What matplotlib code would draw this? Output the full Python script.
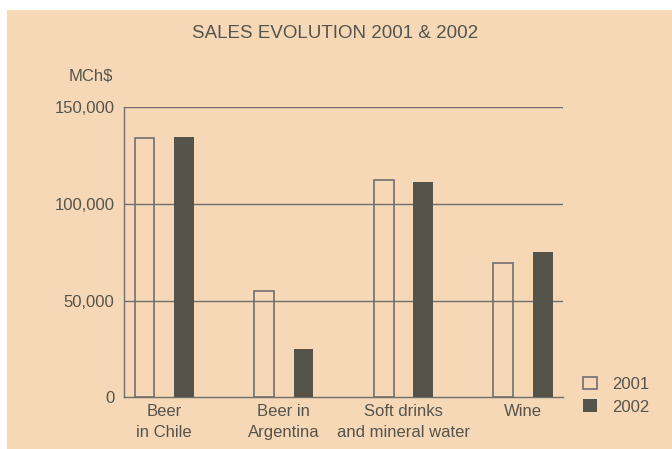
import numpy as np
import matplotlib.pyplot as plt
from matplotlib.patches import Rectangle

# sales, millions of Chilean pesos
categories = ["Beer\nin Chile", "Beer in\nArgentina", "Soft drinks\nand mineral water", "Wine"]
sales_2001 = [134000, 54700, 112200, 69500]
sales_2002 = [134400, 24800, 111100, 75000]
years = ["2001", "2002"]
yticks = [0, 50000, 100000, 150000]

bg = "#f6d8b7"
txt = "#55544c"
line = "#6f6f6f"
dark = "#55544b"

plt.rcParams["font.family"] = ["Liberation Sans", "DejaVu Sans"]

fig = plt.figure(figsize=(6.72, 4.49), dpi=100)
fig.patch.set_facecolor("white")
fig.patches.append(Rectangle((7 / 672, 0), 1, 1 - 10 / 449, transform=fig.transFigure,
                             facecolor=bg, edgecolor="none", zorder=-10))

ax = fig.add_axes([0.185, 0.1151, 0.6524, 0.6466])
ax.set_facecolor("none")

x = np.arange(len(categories))
w = 0.165
ax.bar(x - w, sales_2001, width=w, facecolor="none", edgecolor=line, linewidth=1.2,
       label=years[0], zorder=3)
ax.bar(x + w, sales_2002, width=w, color=dark, edgecolor="none", label=years[1], zorder=3)

ax.set_xlim(-0.334, 3.332)
ax.set_ylim(0, 150000)
ax.set_yticks(yticks)
ax.set_yticklabels([f"{v:,}" for v in yticks])
ax.set_xticks(x)
ax.set_xticklabels(categories, linespacing=1.45)
ax.tick_params(length=0, labelsize=12, colors=txt)
ax.tick_params(axis="y", pad=7)
ax.tick_params(axis="x", pad=5)

for v in yticks[1:]:
    ax.axhline(v, color=line, linewidth=1.0, zorder=1)
for s in ["top", "right"]:
    ax.spines[s].set_visible(False)
for s in ["left", "bottom"]:
    ax.spines[s].set_color(line)
    ax.spines[s].set_linewidth(1.0)

fig.text(0.498, 0.9265, "SALES EVOLUTION 2001 & 2002", ha="center", va="center",
         fontsize=13.5, color=txt)
fig.text(0.1686, 0.8307, "MCh$", ha="right", va="center", fontsize=12, color=txt)

leg = ax.legend(loc="upper left", bbox_to_anchor=(0.868, 0.161), bbox_transform=fig.transFigure,
                frameon=False, fontsize=12, handlelength=0.8, handleheight=0.8,
                handletextpad=0.9, labelspacing=0.45, borderpad=0, borderaxespad=0)
for t in leg.get_texts():
    t.set_color(txt)

fig.savefig("out.png", dpi=100, facecolor=fig.get_facecolor())
